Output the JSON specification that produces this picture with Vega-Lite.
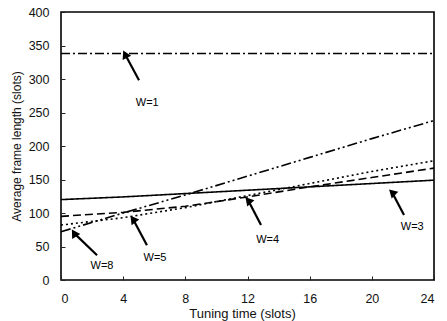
{
  "$schema": "https://vega.github.io/schema/vega-lite/v6.json",
  "width": 373,
  "height": 268,
  "autosize": {"type": "none"},
  "padding": {"left": 61, "top": 12, "right": 13, "bottom": 41},
  "background": "white",
  "config": {
    "font": "Liberation Sans",
    "view": {"stroke": "black", "strokeWidth": 1.6},
    "axis": {
      "grid": false,
      "domain": false,
      "ticks": true,
      "tickSize": -4,
      "tickColor": "#222",
      "labelFontSize": 12.5,
      "labelColor": "#111",
      "labelOverlap": false,
      "titleFontSize": 12,
      "titleFontWeight": "normal",
      "titleColor": "#111"
    },
    "axisX": {"titleFontSize": 13}
  },
  "datasets": {
    "lines": [
      {"series": "W=1", "t": 0, "y": 338}, {"series": "W=1", "t": 24, "y": 338},
      {"series": "W=3", "t": 0, "y": 120}, {"series": "W=3", "t": 4, "y": 124}, {"series": "W=3", "t": 8, "y": 129}, {"series": "W=3", "t": 12, "y": 134}, {"series": "W=3", "t": 16, "y": 139}, {"series": "W=3", "t": 20, "y": 144}, {"series": "W=3", "t": 24, "y": 149},
      {"series": "W=4", "t": 0, "y": 95}, {"series": "W=4", "t": 4, "y": 101}, {"series": "W=4", "t": 8, "y": 110}, {"series": "W=4", "t": 12, "y": 124}, {"series": "W=4", "t": 16, "y": 139}, {"series": "W=4", "t": 20, "y": 153}, {"series": "W=4", "t": 24, "y": 167},
      {"series": "W=5", "t": 0, "y": 82}, {"series": "W=5", "t": 4, "y": 93}, {"series": "W=5", "t": 8, "y": 108}, {"series": "W=5", "t": 12, "y": 126}, {"series": "W=5", "t": 16, "y": 144}, {"series": "W=5", "t": 20, "y": 162}, {"series": "W=5", "t": 24, "y": 178},
      {"series": "W=8", "t": 0, "y": 72}, {"series": "W=8", "t": 4, "y": 100}, {"series": "W=8", "t": 8, "y": 127}, {"series": "W=8", "t": 12, "y": 155}, {"series": "W=8", "t": 16, "y": 183}, {"series": "W=8", "t": 20, "y": 211}, {"series": "W=8", "t": 24, "y": 238}
    ],
    "arrows": [
      {"label": "W=1", "tipx": 4.12, "tipy": 337, "tailx": 5.02, "taily": 298, "lx": 5.55, "ly": 264},
      {"label": "W=8", "tipx": 0.84, "tipy": 70, "tailx": 2.32, "taily": 37, "lx": 2.64, "ly": 21},
      {"label": "W=5", "tipx": 4.63, "tipy": 91, "tailx": 5.53, "taily": 52, "lx": 6.05, "ly": 33},
      {"label": "W=4", "tipx": 12.04, "tipy": 119, "tailx": 12.87, "taily": 82, "lx": 13.3, "ly": 60},
      {"label": "W=3", "tipx": 21.3, "tipy": 131, "tailx": 22.07, "taily": 97, "lx": 22.6, "ly": 79}
    ]
  },
  "layer": [
    {
      "data": {"name": "lines"},
      "mark": {"type": "line", "color": "black", "strokeWidth": 1.6},
      "encoding": {
        "x": {
          "field": "t", "type": "quantitative",
          "scale": {"domain": [0, 24], "nice": false},
          "axis": {"values": [0, 4, 8, 12, 16, 20, 24], "title": "Tuning time (slots)", "labelPadding": 16, "titlePadding": 3, "titleX": 181}
        },
        "y": {
          "field": "y", "type": "quantitative",
          "scale": {"domain": [0, 400], "nice": false},
          "axis": {"values": [0, 50, 100, 150, 200, 250, 300, 350, 400], "title": "Average frame length (slots)", "labelPadding": 16, "titlePadding": 5}
        },
        "detail": {"field": "series"},
        "strokeDash": {
          "field": "series", "type": "nominal", "legend": null,
          "scale": {
            "domain": ["W=1", "W=3", "W=4", "W=5", "W=8"],
            "range": [[9, 3, 2, 3], [1, 0], [8, 4], [2, 3], [10, 3, 2, 3, 2, 3]]
          }
        }
      }
    },
    {
      "data": {"name": "arrows"},
      "mark": {"type": "rule", "color": "black", "strokeWidth": 2.2},
      "encoding": {
        "x": {"field": "tailx", "type": "quantitative",
          "axis": {"values": [0, 4, 8, 12, 16, 20, 24], "title": "Tuning time (slots)", "labelPadding": 16, "titlePadding": 3, "titleX": 181}},
        "y": {"field": "taily", "type": "quantitative",
          "axis": {"values": [0, 50, 100, 150, 200, 250, 300, 350, 400], "title": "Average frame length (slots)", "labelPadding": 16, "titlePadding": 5}},
        "x2": {"field": "tipx"},
        "y2": {"field": "tipy"}
      }
    },
    {
      "data": {"name": "arrows"},
      "mark": {"type": "point", "shape": "triangle-up", "filled": true, "color": "black", "size": 90, "opacity": 1},
      "encoding": {
        "x": {"field": "tipx", "type": "quantitative",
          "axis": {"values": [0, 4, 8, 12, 16, 20, 24], "title": "Tuning time (slots)", "labelPadding": 16, "titlePadding": 3, "titleX": 181}},
        "y": {"field": "tipy", "type": "quantitative",
          "axis": {"values": [0, 50, 100, 150, 200, 250, 300, 350, 400], "title": "Average frame length (slots)", "labelPadding": 16, "titlePadding": 5}},
        "angle": {
          "field": "label", "type": "nominal", "legend": null,
          "scale": {"domain": ["W=1", "W=8", "W=5", "W=4", "W=3"], "range": [333, 314, 332, 332, 332]}
        }
      }
    },
    {
      "data": {"name": "arrows"},
      "mark": {"type": "text", "fontSize": 11, "color": "black", "align": "center", "baseline": "middle"},
      "encoding": {
        "x": {"field": "lx", "type": "quantitative",
          "axis": {"values": [0, 4, 8, 12, 16, 20, 24], "title": "Tuning time (slots)", "labelPadding": 16, "titlePadding": 3, "titleX": 181}},
        "y": {"field": "ly", "type": "quantitative",
          "axis": {"values": [0, 50, 100, 150, 200, 250, 300, 350, 400], "title": "Average frame length (slots)", "labelPadding": 16, "titlePadding": 5}},
        "text": {"field": "label"}
      }
    }
  ]
}
